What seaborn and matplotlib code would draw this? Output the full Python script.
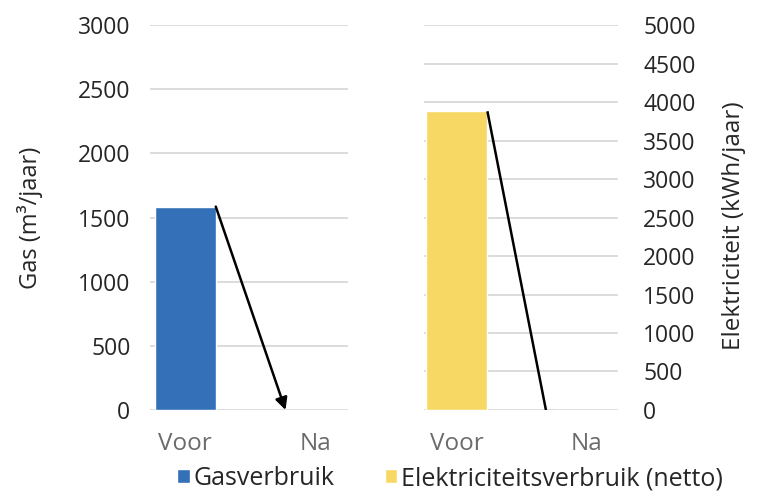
import matplotlib
matplotlib.use("Agg")
import matplotlib.pyplot as plt
import seaborn as sns
import pandas as pd
from matplotlib.patches import Patch

# data
categories = ["Voor", "Na"]
gas_values = [1585, 0]
elek_values = [3880, 0]
gas_ticks = [0, 500, 1000, 1500, 2000, 2500, 3000]
elek_ticks = list(range(0, 5001, 500))

GAS_COLOR = "#3470B8"
ELEK_COLOR = "#F7D864"
GRID_COLOR = "#D9D9D9"

sns.set_theme(style="white")
plt.rcParams["font.family"] = ["Open Sans", "DejaVu Sans"]

fig = plt.figure(figsize=(7.65, 4.91), dpi=100)
ax1 = fig.add_axes([0.196, 0.165, 0.259, 0.784])
ax2 = fig.add_axes([0.554, 0.165, 0.254, 0.784])

df_gas = pd.DataFrame({"cat": categories, "val": gas_values})
df_elek = pd.DataFrame({"cat": categories, "val": elek_values})

sns.barplot(data=df_gas, x="cat", y="val", color=GAS_COLOR, width=0.47,
            saturation=1, ax=ax1, zorder=3)
sns.barplot(data=df_elek, x="cat", y="val", color=ELEK_COLOR, width=0.47,
            saturation=1, ax=ax2, zorder=3)

for ax, ticks in [(ax1, gas_ticks), (ax2, elek_ticks)]:
    ax.set_ylim(ticks[0], ticks[-1])
    ax.set_yticks(ticks)
    ax.set_xlim(-0.27, 1.25)
    ax.yaxis.grid(True, color=GRID_COLOR, linewidth=1.3, zorder=0)
    ax.set_axisbelow(True)
    for s in ax.spines.values():
        s.set_visible(False)
    ax.tick_params(axis="y", length=0, labelsize=16.5, labelcolor="#262626", pad=14)
    ax.tick_params(axis="x", length=0, labelsize=17.5, labelcolor="#6b6b6b", pad=16)
    ax.set_xlabel("")

ax2.set_xlim(-0.254, 1.24)
ax2.yaxis.tick_right()
ax2.yaxis.set_label_position("right")
ax2.tick_params(axis="y", pad=18)

ax1.set_ylabel("Gas (m³/jaar)", fontsize=17, color="#262626")
ax1.yaxis.set_label_coords(-0.54, 0.5)
ax2.set_ylabel("Elektriciteit (kWh/jaar)", fontsize=17.5, color="#262626")
ax2.yaxis.set_label_coords(1.536, 0.48)

# arrow from top of Voor bar to Na
half = 0.47 / 2
ax1.annotate("", xy=(0.77, gas_values[1]), xytext=(half, gas_values[0]),
             arrowprops=dict(arrowstyle="-|>", color="black", lw=1.8,
                             mutation_scale=18, shrinkA=0, shrinkB=0), zorder=5)
ax2.plot([half, 0.685], [elek_values[0], elek_values[1]], color="black", lw=1.8,
         zorder=5, solid_capstyle="butt")

handles = [Patch(facecolor=GAS_COLOR, label="Gasverbruik"),
           Patch(facecolor=ELEK_COLOR, label="Elektriciteitsverbruik (netto)")]
fig.legend(handles=handles, loc="center left", bbox_to_anchor=(0.232, 0.025), ncol=2,
           frameon=False, fontsize=18, handlelength=0.5, handleheight=0.5,
           handletextpad=0.15, columnspacing=2.0, labelcolor="#262626",
           borderaxespad=0, borderpad=0)

fig.savefig("out.png", dpi=100)
